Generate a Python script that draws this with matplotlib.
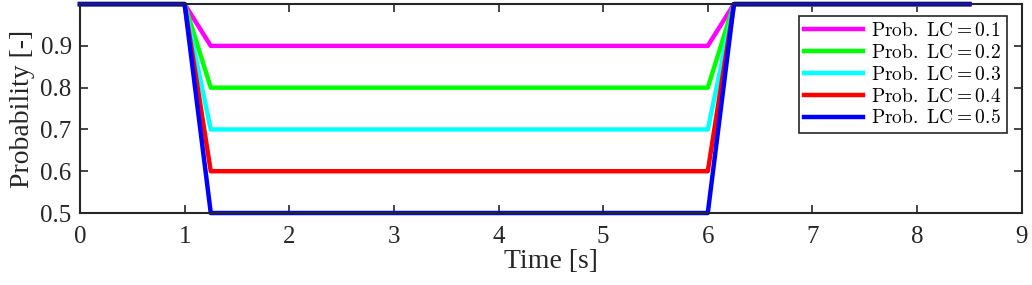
import matplotlib
matplotlib.use("Agg")
import matplotlib.pyplot as plt

plt.rcParams['mathtext.fontset'] = 'cm'
plt.rcParams['font.family'] = ['Liberation Serif', 'DejaVu Serif']

# time breakpoints [s]
t = [0, 1, 1.25, 6, 6.25, 8.5]
lc_probs = [0.1, 0.2, 0.3, 0.4, 0.5]
colors = ['#ff00ff', '#00ff00', '#00ffff', '#ff0000', '#0000ff']
xticks = [0, 1, 2, 3, 4, 5, 6, 7, 8, 9]
yticks = [0.5, 0.6, 0.7, 0.8, 0.9]

fig = plt.figure(figsize=(10.32, 2.85), dpi=100)
ax = fig.add_axes([0.0775, 0.2526, 0.9125, 0.733])

for p, c in zip(lc_probs, colors):
    y = [1, 1, 1 - p, 1 - p, 1, 1]
    ax.plot(t, y, color=c, lw=3.2, clip_on=False,
            label=r'$\mathrm{Prob.\ LC} = %.1f$' % p)

ax.set_xlim(0, 9)
ax.set_ylim(0.5, 1.0)
ax.set_xticks(xticks)
ax.set_yticks(yticks)
ax.tick_params(direction='in', top=True, right=True, labelsize=18, length=6,
               colors='#262626', width=1.2)
ax.tick_params(axis='x', pad=9)
ax.tick_params(axis='y', pad=6)
for s in ax.spines.values():
    s.set_color('#262626')
    s.set_linewidth(1.5)
ax.set_xlabel('Time [s]', fontsize=20, color='#262626', labelpad=1)
ax.set_ylabel('Probability [-]', fontsize=20, color='#262626', labelpad=4)

leg = ax.legend(loc='upper right', fontsize=14, handlelength=3.0,
                labelspacing=0.2, borderpad=0.3, handletextpad=0.4,
                borderaxespad=0, fancybox=False, framealpha=1,
                bbox_to_anchor=(0.984, 0.943))
leg.get_frame().set_edgecolor('#262626')
leg.get_frame().set_linewidth(1.2)

fig.savefig('out.png', dpi=100)
